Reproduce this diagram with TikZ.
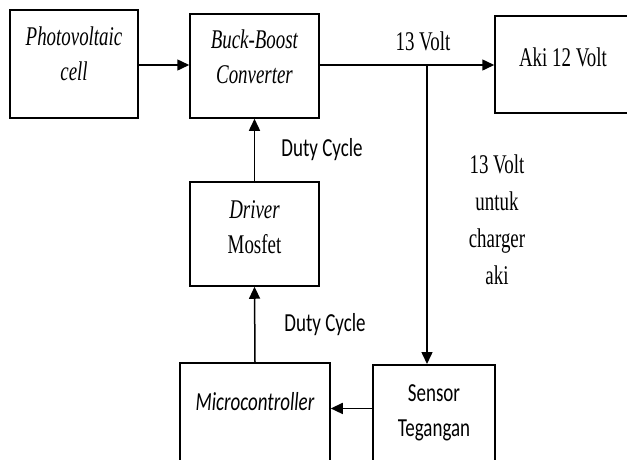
\documentclass[tikz,border=0pt]{standalone}
\usepackage{fontspec}
\setmainfont[FakeStretch=0.70,
  ItalicFont=Liberation Serif Italic,
  BoldFont=Liberation Serif Bold]{Liberation Serif}
\newfontfamily\calibri[FakeStretch=0.73]{Carlito}
\usetikzlibrary{arrows.meta}

\tikzset{
  blok/.style={draw, line width=1.5pt, minimum width=129pt, minimum height=104pt,
    align=center, inner sep=0pt, font=\fontsize{27}{35}\selectfont},
  panah/.style={line width=1.5pt, -{Triangle[length=12pt,width=11pt]}},
  ket/.style={align=center, inner sep=0pt, font=\fontsize{27}{35}\selectfont},
}

\begin{document}
\begin{tikzpicture}[x=1pt, y=-1pt]
                \useasboundingbox (0,0) rectangle (627,459);
                \clip (0,0) rectangle (627,459);

                % 1. Blok diagram
                \node[blok, minimum width=128pt, minimum height=108pt, text depth=20pt] (pv) at (74,64)
                    {\textit{Photovoltaic}\\\textit{cell}};
                \node[blok, text depth=18pt] (buck) at (254.5,66)
                    {\textit{Buck-Boost}\\\textit{Converter}};
                \node[blok, minimum width=136pt, minimum height=97pt, text depth=15pt] (aki) at (563,64.5)
                    {Aki 12 Volt};
                \node[blok, text depth=14pt] (driver) at (254.5,234)
                    {\textit{Driver}\\Mosfet};
                \node[blok, anchor=north, minimum width=150pt, text height=48pt, text depth=80pt,
                    font=\calibri\itshape\fontsize{26}{35}\selectfont] (micro) at (255,362)
                    {Microcontroller};
                \node[blok, anchor=north, minimum width=122pt, text height=72pt, text depth=60pt,
                    font=\calibri\fontsize{26}{35}\selectfont] (sensor) at (434,364)
                    {Sensor\\Tegangan};

                % 2. Panah
                \coordinate (cabang) at (427,65);
                \draw[panah] (pv.east |- cabang) -- (buck.west |- cabang);
                \draw[panah] (buck.east |- cabang) -- (aki.west |- cabang);
                \draw[panah] (cabang) -- (cabang |- sensor.north);
                \draw[panah] (sensor.west |- micro.mid east) -- (micro.mid east);
                \draw[panah] (micro.north) -- (driver.south);
                \draw[panah] (driver.north) -- (buck.south);

                % 3. Keterangan
                \node[ket] (volt) at (423,41) {13 Volt};
                \node[ket, font=\calibri\fontsize{26}{35}\selectfont] (duty1) at (322,150) {Duty Cycle};
                \node[ket, font=\calibri\fontsize{26}{35}\selectfont] (duty2) at (325,325) {Duty Cycle};
                \node[ket, font=\fontsize{27}{37}\selectfont] (charger) at (497,220)
                    {13 Volt\\untuk\\charger\\aki};
\end{tikzpicture}
\end{document}
